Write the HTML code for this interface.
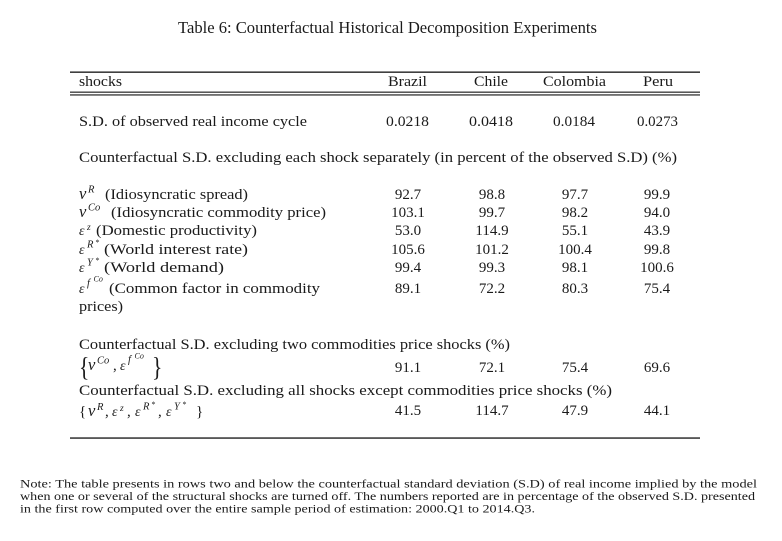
<!DOCTYPE html>
<html>
<head>
<meta charset="utf-8">
<style>
html,body{margin:0;padding:0;background:#fff;}
svg{display:block;}
text{font-family:"Liberation Serif","DejaVu Serif",serif;fill:#1a1a1a;}
.it{font-style:italic;}
</style>
</head>
<body>
<svg width="782" height="541" viewBox="0 0 782 541" xmlns="http://www.w3.org/2000/svg">
<rect width="782" height="541" fill="#fff"/>

<!-- Title -->
<text x="178" y="33" font-size="16.5" textLength="419" lengthAdjust="spacingAndGlyphs">Table 6: Counterfactual Historical Decomposition Experiments</text>

<!-- Rules -->
<rect x="70" y="71.5" width="630" height="1.3" fill="#111"/>
<rect x="70" y="91.6" width="630" height="1.1" fill="#111"/>
<rect x="70" y="94.4" width="630" height="1.1" fill="#111"/>
<rect x="70" y="437.4" width="630" height="1.3" fill="#111"/>

<g font-size="15">
<!-- Header -->
<text x="79" y="86" textLength="43" lengthAdjust="spacingAndGlyphs">shocks</text>
<text x="388" y="86" textLength="39" lengthAdjust="spacingAndGlyphs">Brazil</text>
<text x="474" y="86" textLength="34" lengthAdjust="spacingAndGlyphs">Chile</text>
<text x="543" y="86" textLength="63" lengthAdjust="spacingAndGlyphs">Colombia</text>
<text x="643" y="86" textLength="30" lengthAdjust="spacingAndGlyphs">Peru</text>

<!-- S.D. row -->
<text x="79" y="126" textLength="228" lengthAdjust="spacingAndGlyphs">S.D. of observed real income cycle</text>
<text x="386" y="126" textLength="43" lengthAdjust="spacingAndGlyphs">0.0218</text>
<text x="469" y="126" textLength="44" lengthAdjust="spacingAndGlyphs">0.0418</text>
<text x="553" y="126" textLength="42" lengthAdjust="spacingAndGlyphs">0.0184</text>
<text x="637" y="126" textLength="41" lengthAdjust="spacingAndGlyphs">0.0273</text>

<text x="79" y="162" textLength="598" lengthAdjust="spacingAndGlyphs">Counterfactual S.D. excluding each shock separately (in percent of the observed S.D) (%)</text>

<!-- Row 1 -->
<text x="79" y="199" class="it" font-size="16.5">ν</text>
<text x="88" y="192.5" class="it" font-size="10.5">R</text>
<text x="105" y="199" textLength="143" lengthAdjust="spacingAndGlyphs">(Idiosyncratic spread)</text>

<!-- Row 2 -->
<text x="79" y="217" class="it" font-size="16.5">ν</text>
<text x="88" y="210.5" class="it" font-size="10.5">Co</text>
<text x="111" y="217" textLength="215" lengthAdjust="spacingAndGlyphs">(Idiosyncratic commodity price)</text>

<!-- Row 3 -->
<text x="79" y="235" class="it" font-size="14">ε</text>
<text x="87" y="230" class="it" font-size="9.5">z</text>
<text x="96" y="235" textLength="161" lengthAdjust="spacingAndGlyphs">(Domestic productivity)</text>

<!-- Row 4 -->
<text x="79" y="254" class="it" font-size="14">ε</text>
<text x="87" y="247.5" class="it" font-size="10.5">R</text>
<text x="95.5" y="245" font-size="8">*</text>
<text x="104" y="254" textLength="144" lengthAdjust="spacingAndGlyphs">(World interest rate)</text>

<!-- Row 5 -->
<text x="79" y="272" class="it" font-size="14">ε</text>
<text x="87" y="265.5" class="it" font-size="10.5">Y</text>
<text x="95.5" y="263" font-size="8">*</text>
<text x="104" y="272" textLength="120" lengthAdjust="spacingAndGlyphs">(World demand)</text>

<!-- Row 6 -->
<text x="79" y="293" class="it" font-size="14">ε</text>
<text x="87" y="286" class="it" font-size="10.5">f</text>
<text x="93.5" y="281.5" class="it" font-size="8">Co</text>
<text x="109" y="293" textLength="211" lengthAdjust="spacingAndGlyphs">(Common factor in commodity</text>
<text x="79" y="311" textLength="44" lengthAdjust="spacingAndGlyphs">prices)</text>

<!-- Numbers block -->
<g text-anchor="middle">
<text x="408" y="199">92.7</text><text x="492" y="199">98.8</text><text x="575" y="199">97.7</text><text x="657" y="199">99.9</text>
<text x="408" y="217">103.1</text><text x="492" y="217">99.7</text><text x="575" y="217">98.2</text><text x="657" y="217">94.0</text>
<text x="408" y="235">53.0</text><text x="492" y="235">114.9</text><text x="575" y="235">55.1</text><text x="657" y="235">43.9</text>
<text x="408" y="254">105.6</text><text x="492" y="254">101.2</text><text x="575" y="254">100.4</text><text x="657" y="254">99.8</text>
<text x="408" y="272">99.4</text><text x="492" y="272">99.3</text><text x="575" y="272">98.1</text><text x="657" y="272">100.6</text>
<text x="408" y="293">89.1</text><text x="492" y="293">72.2</text><text x="575" y="293">80.3</text><text x="657" y="293">75.4</text>

<text x="408" y="372">91.1</text><text x="492" y="372">72.1</text><text x="575" y="372">75.4</text><text x="657" y="372">69.6</text>
<text x="408" y="415">41.5</text><text x="492" y="415">114.7</text><text x="575" y="415">47.9</text><text x="657" y="415">44.1</text>
</g>

<!-- Lower block -->
<text x="79" y="349" textLength="431" lengthAdjust="spacingAndGlyphs">Counterfactual S.D. excluding two commodities price shocks (%)</text>

<text x="79" y="376" font-size="27" transform="translate(79 376) scale(0.8 1) translate(-79 -376)">{</text>
<text x="88" y="370" class="it" font-size="16.5">ν</text>
<text x="97" y="363.5" class="it" font-size="10.5">Co</text>
<text x="113" y="370">,</text>
<text x="120" y="370" class="it" font-size="14">ε</text>
<text x="128" y="362.5" class="it" font-size="10.5">f</text>
<text x="134.5" y="358.5" class="it" font-size="8">Co</text>
<text x="152" y="376" font-size="27" transform="translate(152 376) scale(0.8 1) translate(-152 -376)">}</text>

<text x="79" y="395" textLength="533" lengthAdjust="spacingAndGlyphs">Counterfactual S.D. excluding all shocks except commodities price shocks (%)</text>

<text x="79" y="416">{</text>
<text x="88" y="416" class="it" font-size="16.5">ν</text>
<text x="97" y="410" class="it" font-size="10.5">R</text>
<text x="105" y="416">,</text>
<text x="112" y="416" class="it" font-size="14">ε</text>
<text x="120" y="411" class="it" font-size="9.5">z</text>
<text x="127" y="416">,</text>
<text x="135" y="416" class="it" font-size="14">ε</text>
<text x="143" y="409.5" class="it" font-size="10.5">R</text>
<text x="151.5" y="407" font-size="8">*</text>
<text x="158" y="416">,</text>
<text x="166" y="416" class="it" font-size="14">ε</text>
<text x="174" y="409.5" class="it" font-size="10.5">Y</text>
<text x="182.5" y="407" font-size="8">*</text>
<text x="196" y="416">}</text>
</g>

<!-- Note -->
<g font-size="12">
<text x="20" y="487.5" textLength="737" lengthAdjust="spacingAndGlyphs">Note: The table presents in rows two and below the counterfactual standard deviation (S.D) of real income implied by the model</text>
<text x="20" y="500" textLength="735" lengthAdjust="spacingAndGlyphs">when one or several of the structural shocks are turned off. The numbers reported are in percentage of the observed S.D. presented</text>
<text x="20" y="512.5" textLength="515" lengthAdjust="spacingAndGlyphs">in the first row computed over the entire sample period of estimation: 2000.Q1 to 2014.Q3.</text>
</g>
</svg>
</body>
</html>
